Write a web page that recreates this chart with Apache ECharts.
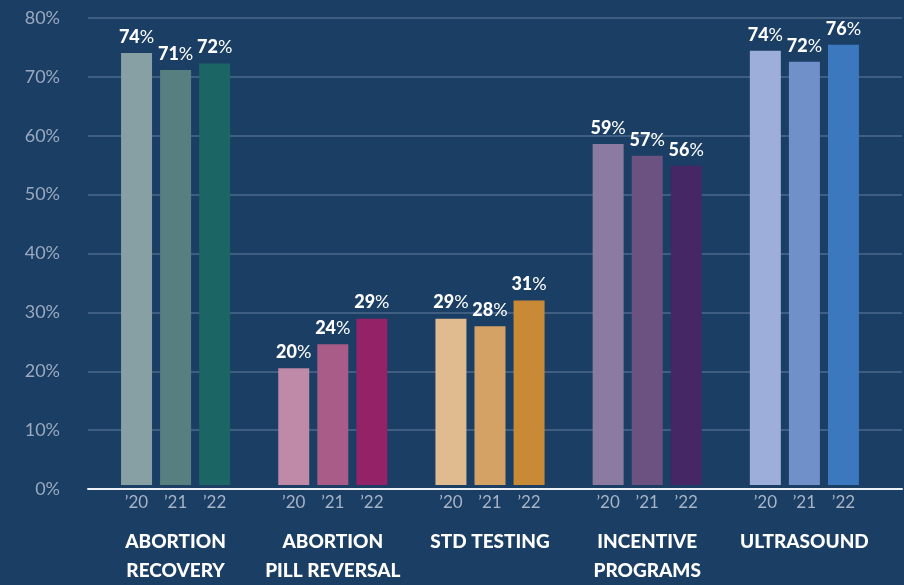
<!DOCTYPE html>
<html>
<head>
    <meta charset="utf-8" />
    <title>Services chart</title>
    <script src="https://cdn.jsdelivr.net/npm/echarts@6/dist/echarts.min.js"></script>
    <style>
        html, body { margin: 0; padding: 0; background: #1b3e64; }
        #main { width: 904px; height: 585px; }
    </style>
</head>
<body>
    <div id="main"></div>
    <script type="text/javascript">
        // categories and values (bar heights, labels as printed)
        var groups = ['ABORTION\nRECOVERY', 'ABORTION\nPILL REVERSAL', 'STD TESTING', 'INCENTIVE\nPROGRAMS', 'ULTRASOUND'];
        var years = ['\u201920', '\u201921', '\u201922'];
        var values20 = [74.0, 20.0, 28.5, 58.4, 74.4];
        var values21 = [71.1, 24.1, 27.2, 56.4, 72.5];
        var values22 = [72.2, 28.5, 31.6, 54.7, 75.4];
        var labels20 = [74, 20, 29, 59, 74];
        var labels21 = [71, 24, 28, 57, 72];
        var labels22 = [72, 29, 31, 56, 76];
        var yMin = 0, yMax = 80, yStep = 10;

        // colour for each bar: [group][year]
        var colors = [
            ['#87a0a3', '#577f80', '#1b6664'],
            ['#bf89a8', '#a95c87', '#932266'],
            ['#dfbb8f', '#d4a265', '#c98a38'],
            ['#8c7ba0', '#6b5280', '#452766'],
            ['#9daedb', '#6f90c8', '#3b78bd']
        ];

        var FONT = 'Lato, "Noto Sans", sans-serif';
        var allValues = [values20, values21, values22];
        var allLabels = [labels20, labels21, labels22];

        var series = [];
        for (var y = 0; y < 3; y++) {
            (function (y) {
                // visible bars with value labels
                series.push({
                    name: years[y],
                    type: 'bar',
                    xAxisIndex: 1,
                    yAxisIndex: 1,
                    barWidth: 31,
                    barGap: '26%',
                    data: allValues[y].map(function (v, g) {
                        return { value: v, itemStyle: { color: colors[g][y] } };
                    }),
                    label: {
                        show: true,
                        position: 'top',
                        distance: 7,
                        formatter: function (p) {
                            return '{b|' + allLabels[y][p.dataIndex] + '}{n|%}';
                        },
                        rich: {
                            b: { fontFamily: FONT, fontSize: 18, fontWeight: 900, color: '#ffffff' },
                            n: { fontFamily: FONT, fontSize: 18, fontWeight: 'normal', color: '#ffffff' }
                        }
                    },
                    silent: true
                });
                // transparent copy that carries the year label under each bar
                series.push({
                    type: 'bar',
                    xAxisIndex: 2,
                    yAxisIndex: 1,
                    barWidth: 31,
                    barGap: '26%',
                    data: allValues[y],
                    itemStyle: { color: 'rgba(0,0,0,0)' },
                    label: {
                        show: true,
                        position: 'bottom',
                        distance: 9,
                        formatter: years[y],
                        fontFamily: FONT,
                        fontSize: 17,
                        color: '#a7b3c6'
                    },
                    silent: true
                });
            })(y);
        }

        var myChart = echarts.init(document.getElementById('main'));
        var option = {
            backgroundColor: '#1b3e64',
            animation: false,
            grid: [
                { left: 88, right: 2, top: 18, bottom: 96 },
                { left: 97, right: 21, top: 18, bottom: 96 }
            ],
            xAxis: [
                {
                    gridIndex: 0,
                    type: 'category',
                    data: groups,
                    axisLine: { show: true, lineStyle: { color: '#eef2f6', width: 2 } },
                    axisTick: { show: false },
                    axisLabel: { show: false },
                    z: 10
                },
                {
                    gridIndex: 1,
                    type: 'category',
                    data: groups,
                    axisLine: { show: false },
                    axisTick: { show: false },
                    axisLabel: {
                        margin: 42,
                        fontFamily: FONT,
                        fontSize: 19,
                        fontWeight: 900,
                        color: '#ffffff',
                        lineHeight: 29,
                        interval: 0
                    }
                },
                {
                    gridIndex: 1,
                    type: 'category',
                    data: groups,
                    show: false
                }
            ],
            yAxis: [
                {
                    gridIndex: 0,
                    type: 'value',
                    min: yMin,
                    max: yMax,
                    interval: yStep,
                    axisLine: { show: false },
                    axisTick: { show: false },
                    axisLabel: {
                        formatter: '{value}%',
                        margin: 28,
                        fontFamily: FONT,
                        fontSize: 18,
                        color: '#9aa9bf'
                    },
                    splitLine: { lineStyle: { color: '#4d6a8d', width: 1.5 } }
                },
                {
                    gridIndex: 1,
                    type: 'value',
                    min: yMin,
                    max: yMax,
                    interval: yStep,
                    show: false,
                    splitLine: { show: false }
                }
            ],
            series: series
        };

        myChart.setOption(option);
    </script>
</body>
</html>
